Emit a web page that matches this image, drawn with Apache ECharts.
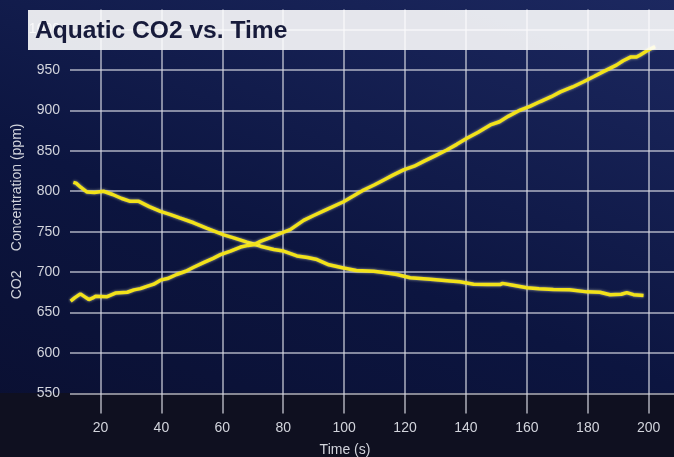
<!DOCTYPE html>
<html><head><meta charset="utf-8">
<script src="https://cdn.jsdelivr.net/npm/echarts@6/dist/echarts.min.js"></script>
<style>
html,body{margin:0;padding:0;}
body{width:674px;height:457px;overflow:hidden;background:
 linear-gradient(to bottom, rgba(0,0,0,0) 393px, #0f1020 393px),
 linear-gradient(20deg, #0a0f30 0%, #0c1540 45%, #1c2860 100%);}
#chart{width:674px;height:457px;}
</style></head><body><div id="chart"></div>
<script>
// Series A: decreasing CO2 trace
const timeA = [11.1, 12, 13.5, 15.6, 18, 21, 24, 27, 29.8, 32.6, 36, 39.7, 43, 46, 50.6, 55, 60.5, 64, 68.1, 71.4, 72.5, 76.9, 80.1, 84.5, 88, 91.1, 95, 99.8, 104, 109.7, 113, 117.3, 121.7, 128.3, 134.8, 138, 142.5, 147, 151.2, 152, 155, 160, 164, 168.7, 174, 179.7, 184, 187.3, 191, 192.8, 195, 198.3];
const co2A  = [811, 810, 805, 799, 798.5, 800, 796, 791, 787.5, 787.5, 781, 775, 771, 767, 761, 754, 746, 742, 737, 733.5, 732, 728, 726, 720, 718, 715.5, 709, 705, 702, 701, 699.5, 697, 693, 691, 689, 688, 685, 684.5, 684.5, 686, 684, 680.5, 679.5, 678.5, 678, 675.5, 675, 672, 672.5, 674.5, 672, 671];
// Series B: increasing CO2 trace
const timeB = [10.2, 11.5, 13.4, 15, 16.2, 17.5, 18.4, 22.2, 24.9, 28.8, 31, 33.1, 35, 37.5, 39.7, 42, 45, 48, 50.6, 54, 57, 59.4, 62.7, 66, 68.5, 70.5, 72.5, 76, 79.1, 82.3, 86.7, 90, 94, 99.8, 103, 106.4, 110, 113, 116, 119.5, 123, 126.1, 130, 133.7, 137, 140.3, 144, 148, 151, 154, 157.8, 161, 164.4, 168, 171, 175, 178.6, 182, 185.1, 189.4, 191.6, 194, 196, 197.2, 200, 202.1];
const co2B  = [664, 668, 673, 669, 666, 668, 670, 669.5, 674, 675, 678, 679.5, 682, 685, 690, 692, 697, 701, 706, 712, 717, 721.5, 726, 731, 733, 734, 738, 743, 748, 752.5, 764, 770, 777, 787, 794, 801.5, 808, 814, 820, 826.5, 831, 837, 844, 851, 858, 865.5, 873, 882, 886, 893, 900.5, 905, 911, 917, 923, 929, 935.5, 942, 948, 956, 961.5, 966, 966, 968.5, 975, 979];
// Axis tick values
const yTicks = [550, 600, 650, 700, 750, 800, 850, 900, 950, 1000];
const xTicks = [20, 40, 60, 80, 100, 120, 140, 160, 180, 200];

const titleText = 'Aquatic CO2 vs. Time';
const xName = 'Time (s)';
const yName = 'CO2     Concentration (ppm)';

const gridColor = 'rgba(214,216,226,0.8)';
const labelColor = '#d2d4dc';
const font = 'Liberation Sans, Arial, Helvetica, sans-serif';
const lineColor = '#f2e21a';

const chart = echarts.init(document.getElementById('chart'), null, {renderer: 'canvas'});
const mk = (xs, ys) => xs.map((x, i) => [x, ys[i]]);

chart.setOption({
  backgroundColor: 'transparent',
  animation: false,
  title: {
    text: titleText, left: 35, top: 19, padding: 0, z: 110,
    textStyle: {fontSize: 24.6, fontWeight: 'bold', color: '#171b3b', fontFamily: font}
  },
  graphic: [{
    type: 'rect', z: 100, silent: true,
    shape: {x: 28, y: 10, width: 660, height: 40},
    style: {fill: 'rgba(255,255,255,0.89)'}
  }],
  grid: {left: 70, right: 0, top: 9.4, bottom: 43.5, containLabel: false, outerBoundsMode: 'none'},
  xAxis: {
    type: 'value', min: 10, max: 208.3, interval: 10,
    axisLine: {show: false}, axisTick: {show: false},
    axisLabel: {
      color: labelColor, fontSize: 14, fontFamily: font, margin: 8,
      formatter: v => xTicks.indexOf(v) >= 0 ? String(v) : ''
    },
    splitLine: {show: true, lineStyle: {color: ['rgba(0,0,0,0)', gridColor], width: 1.5}},
    name: xName, nameLocation: 'middle', nameGap: 30, nameMoveOverlap: false,
    nameTextStyle: {color: labelColor, fontSize: 14, fontFamily: font, padding: [0, 54, 0, 0]}
  },
  yAxis: {
    type: 'value', min: 525, max: 1025, interval: 25,
    axisLine: {show: false}, axisTick: {show: false},
    axisLabel: {
      color: labelColor, fontSize: 14, fontFamily: font, margin: 10,
      formatter: v => yTicks.indexOf(v) >= 0 ? String(v) : ''
    },
    splitLine: {show: true, lineStyle: {color: ['rgba(0,0,0,0)', gridColor], width: 1.5}},
    name: yName, nameLocation: 'middle', nameGap: 46, nameMoveOverlap: false,
    nameTextStyle: {color: labelColor, fontSize: 14, fontFamily: font}
  },
  series: [
    {type: 'line', data: mk(timeA, co2A), showSymbol: false, smooth: false, z: 3,
     lineStyle: {color: lineColor, width: 3.5, shadowColor: 'rgba(255,255,210,0.6)', shadowBlur: 3}},
    {type: 'line', data: mk(timeB, co2B), showSymbol: false, smooth: false, z: 3,
     lineStyle: {color: lineColor, width: 3.5, shadowColor: 'rgba(255,255,210,0.6)', shadowBlur: 3}}
  ]
});
</script></body></html>
